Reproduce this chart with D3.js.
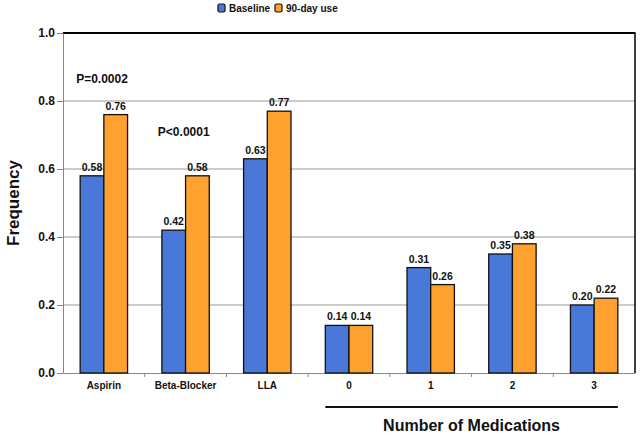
<!DOCTYPE html>
<html><head><meta charset="utf-8">
<script src="https://cdn.jsdelivr.net/npm/d3@7"></script>
<style>body{margin:0;background:#fff}svg{display:block}text{font-family:"Liberation Sans",Arial,sans-serif}</style>
</head><body><svg id="c" width="640" height="437"></svg>
<script>
const categories = ["Aspirin","Beta-Blocker","LLA","0","1","2","3"];
const series = ["Baseline","90-day use"];
const baseline = [0.58,0.42,0.63,0.14,0.31,0.35,0.20];
const day90 = [0.76,0.58,0.77,0.14,0.26,0.38,0.22];
const yTicks = [0,0.2,0.4,0.6,0.8,1.0];
const colors = ["#4a78d8","#ffa12e"];
const annotations = [{text:"P=0.0002",cat:"Aspirin",y:0.853,dx:-4},{text:"P<0.0001",cat:"Beta-Blocker",y:0.697,dx:-4}];

const svg = d3.select("#c");
const m = {l:63,r:5,t:33,b:64};
const W=640,H=437;
const x = d3.scaleBand().domain(categories).range([m.l,W-m.r]).paddingInner(0.42).paddingOuter(0.21);
const xs = d3.scaleBand().domain(series).range([0,x.bandwidth()]);
const y = d3.scaleLinear().domain([0,1]).range([H-m.b,m.t]);

// gridlines
svg.append("g").selectAll("line").data(yTicks.filter(d=>d>0&&d<1)).join("line")
 .attr("x1",m.l).attr("x2",W-m.r).attr("y1",d=>y(d)).attr("y2",d=>y(d))
 .attr("stroke","#999").attr("stroke-width",1);
// frame
svg.append("line").attr("x1",m.l).attr("x2",W-m.r+0.5).attr("y1",y(1)).attr("y2",y(1)).attr("stroke","#000").attr("stroke-width",2);
svg.append("line").attr("x1",W-m.r).attr("x2",W-m.r).attr("y1",y(1)).attr("y2",y(0)).attr("stroke","#000").attr("stroke-width",1.5);

// y axis
const ya = svg.append("g").attr("transform",`translate(${m.l},0)`)
 .call(d3.axisLeft(y).tickValues(yTicks).tickFormat(d3.format(".1f")).tickSize(6).tickSizeOuter(0));
ya.select(".domain").attr("stroke","#888");
ya.selectAll(".tick line").attr("stroke","#888");
ya.selectAll("text").attr("font-size",12).attr("font-weight","bold").attr("fill","#111").attr("x",-8);

// x axis
const xa = svg.append("g").attr("transform",`translate(0,${y(0)})`)
 .call(d3.axisBottom(x).tickSize(0).tickSizeOuter(0));
xa.select(".domain").attr("stroke","#888");
xa.selectAll("text").attr("font-size",10).attr("font-weight","bold").attr("fill","#111").attr("dy","1.3em");
// separator ticks between categories
svg.append("g").selectAll("line").data(d3.range(1,categories.length)).join("line")
 .attr("x1",d=>m.l+d*(W-m.l-m.r)/categories.length).attr("x2",d=>m.l+d*(W-m.l-m.r)/categories.length)
 .attr("y1",y(0)).attr("y2",y(0)+4).attr("stroke","#888");

// bars
const data = categories.map((c,i)=>({c,vals:[baseline[i],day90[i]]}));
const g = svg.append("g");
data.forEach(d=>{
  d.vals.forEach((v,j)=>{
    g.append("rect").attr("x",x(d.c)+xs(series[j])).attr("y",y(v))
     .attr("width",xs.bandwidth()).attr("height",y(0)-y(v))
     .attr("fill",colors[j]).attr("stroke","#111").attr("stroke-width",1.3);
    g.append("text").attr("x",x(d.c)+xs(series[j])+xs.bandwidth()/2).attr("y",y(v)-5)
     .attr("text-anchor","middle").attr("font-size",10.5).attr("font-weight","bold").attr("fill","#111")
     .text(v.toFixed(2));
  });
});

// annotations
annotations.forEach(a=>{
  svg.append("text").attr("x",x(a.cat)+a.dx).attr("y",y(a.y)).attr("font-size",12).attr("font-weight","bold").attr("fill","#111").text(a.text);
});

// y title
svg.append("text").attr("transform",`translate(19,${(y(0)+y(1))/2}) rotate(-90)`).attr("text-anchor","middle")
 .attr("font-size",17).attr("font-weight","bold").attr("fill","#111").text("Frequency");

// group bracket
const x0 = x("0"), x3 = x("3")+x.bandwidth();
svg.append("line").attr("x1",x0).attr("x2",x3).attr("y1",407).attr("y2",407).attr("stroke","#111").attr("stroke-width",2);
svg.append("text").attr("x",(x0+x3)/2).attr("y",431).attr("text-anchor","middle").attr("font-size",16).attr("font-weight","bold").attr("fill","#111").text("Number of Medications");

// legend
const lg = svg.append("g").attr("transform","translate(218,3)");
const lx = [0,57];
series.forEach((s,j)=>{
  lg.append("rect").attr("x",lx[j]).attr("y",1).attr("width",7).attr("height",8).attr("rx",1.5).attr("fill",colors[j]).attr("stroke","#111").attr("stroke-width",1.2);
  lg.append("text").attr("x",lx[j]+11).attr("y",9).attr("font-size",10).attr("font-weight","bold").attr("fill","#111").text(s);
});
</script></body></html>
